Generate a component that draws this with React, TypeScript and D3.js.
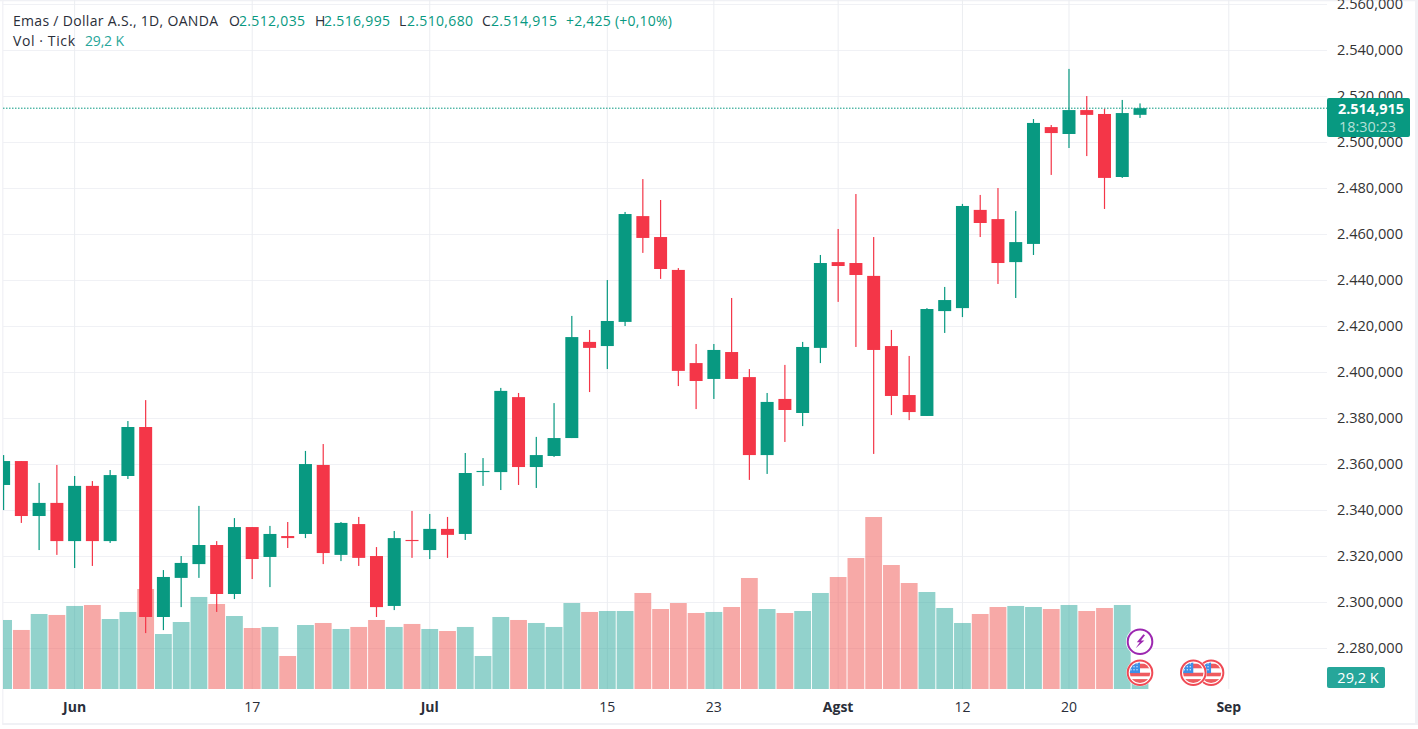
import React from "react"
import * as d3 from "d3"

const WIDTH = 1418
const HEIGHT = 729
const FONT = "'Open Sans', 'Noto Sans', sans-serif"

const GREEN = "#089981"
const RED = "#f43648"
const GRID = "#f0f1f5"

// trading days as month-day; the last five have no candle yet
const sessions = [
    "05-28", "05-29", "05-30", "05-31",
    "06-03", "06-04", "06-05", "06-06", "06-07",
    "06-10", "06-11", "06-12", "06-13", "06-14",
    "06-17", "06-18", "06-19", "06-20", "06-21",
    "06-24", "06-25", "06-26", "06-27", "06-28",
    "07-01", "07-02", "07-03", "07-04", "07-05",
    "07-08", "07-09", "07-10", "07-11", "07-12",
    "07-15", "07-16", "07-17", "07-18", "07-19",
    "07-22", "07-23", "07-24", "07-25", "07-26",
    "07-29", "07-30", "07-31", "08-01", "08-02",
    "08-05", "08-06", "08-07", "08-08", "08-09",
    "08-12", "08-13", "08-14", "08-15", "08-16",
    "08-19", "08-20", "08-21", "08-22", "08-23",
    "08-26", "08-27", "08-28", "08-29", "08-30",
    "09-02",
]

const opens = [
    2351.1, 2361.5, 2337.6, 2343.3, 2326.7, 2350.7, 2326.7, 2355.0, 2376.3, 2293.7,
    2310.7, 2316.7, 2325.0, 2303.7, 2332.8, 2319.8, 2328.9, 2329.8, 2359.8, 2320.7,
    2334.1, 2320.2, 2298.5, 2327.2, 2322.8, 2332.0, 2329.8, 2356.7, 2356.7, 2389.3,
    2358.9, 2363.7, 2371.5, 2413.3, 2411.5, 2422.0, 2468.0, 2458.9, 2444.6, 2404.1,
    2397.2, 2408.9, 2398.0, 2364.1, 2388.5, 2382.4, 2410.7, 2448.0, 2447.6, 2442.0,
    2411.5, 2390.2, 2381.1, 2426.7, 2428.0, 2470.7, 2466.7, 2448.0, 2455.9, 2506.7,
    2503.7, 2514.1, 2512.4, 2485.0, 2512.035,
]
const highs = [
    2364.1, 2361.5, 2352.0, 2359.8, 2355.0, 2352.8, 2357.6, 2378.9, 2388.0, 2314.1,
    2320.2, 2342.0, 2326.7, 2336.7, 2332.8, 2333.3, 2335.0, 2365.9, 2368.9, 2335.0,
    2337.2, 2324.1, 2331.1, 2339.8, 2338.5, 2337.2, 2365.0, 2362.8, 2393.3, 2391.1,
    2372.0, 2386.7, 2424.6, 2418.5, 2440.2, 2469.8, 2484.1, 2475.0, 2445.4, 2412.4,
    2412.4, 2432.4, 2401.5, 2391.1, 2403.3, 2413.3, 2451.1, 2462.4, 2477.6, 2458.9,
    2418.5, 2407.2, 2428.0, 2437.2, 2473.3, 2477.2, 2480.2, 2470.2, 2510.2, 2507.6,
    2532.0, 2520.2, 2514.6, 2518.5, 2516.995,
]
const lows = [
    2340.2, 2334.6, 2322.8, 2320.7, 2315.0, 2315.9, 2325.9, 2353.7, 2286.7, 2288.0,
    2298.0, 2310.7, 2295.9, 2301.5, 2310.2, 2306.7, 2323.7, 2328.0, 2316.7, 2318.0,
    2315.9, 2293.7, 2296.7, 2319.4, 2318.9, 2319.4, 2327.2, 2350.7, 2348.9, 2351.1,
    2349.8, 2363.3, 2371.5, 2391.5, 2401.5, 2420.2, 2452.0, 2440.7, 2394.1, 2384.1,
    2388.5, 2397.2, 2353.3, 2355.9, 2369.8, 2376.7, 2404.1, 2430.7, 2411.1, 2364.6,
    2381.5, 2379.3, 2381.1, 2417.2, 2424.1, 2458.9, 2438.5, 2432.4, 2451.1, 2485.9,
    2497.6, 2494.1, 2471.1, 2484.6, 2510.68,
]
const closes = [
    2361.5, 2337.6, 2343.3, 2326.7, 2350.7, 2326.7, 2355.4, 2376.3, 2293.7, 2311.1,
    2317.2, 2325.0, 2303.7, 2332.8, 2318.9, 2329.8, 2328.0, 2360.2, 2321.5, 2334.6,
    2319.4, 2298.0, 2328.0, 2326.7, 2332.0, 2329.4, 2356.3, 2357.2, 2392.0, 2358.9,
    2364.1, 2371.5, 2415.4, 2410.7, 2422.4, 2468.9, 2458.5, 2445.0, 2400.7, 2396.3,
    2409.8, 2397.2, 2364.1, 2387.2, 2383.7, 2411.1, 2447.6, 2446.3, 2442.4, 2409.8,
    2389.8, 2382.8, 2427.6, 2431.5, 2472.4, 2465.0, 2447.6, 2456.7, 2508.5, 2504.1,
    2514.1, 2512.0, 2484.6, 2512.8, 2514.915,
]
// tick volume, in thousands
const volumes = [
    167.9, 143.6, 182.5, 180.1, 202.0, 204.4, 170.3, 187.4, 243.3, 133.8,
    163.0, 223.9, 206.8, 177.6, 148.4, 150.9, 80.3, 155.7, 160.6, 146.0,
    150.9, 167.9, 150.9, 158.2, 146.0, 141.1, 150.9, 80.3, 175.2, 167.9,
    160.6, 150.9, 209.2, 187.4, 189.8, 189.8, 233.6, 194.6, 209.2, 184.9,
    187.4, 199.5, 270.1, 194.6, 184.9, 189.8, 233.6, 272.5, 318.7, 418.5,
    301.7, 257.9, 236.0, 197.1, 160.6, 182.5, 199.5, 202.0, 199.5, 194.6,
    204.4, 189.8, 197.1, 204.4, 29.2,
]

const priceTicks = d3.range(2280, 2561, 20)
const timeTicks = [
    { date: "06-03", label: "Jun", bold: true },
    { date: "06-17", label: "17", bold: false },
    { date: "07-01", label: "Jul", bold: true },
    { date: "07-15", label: "15", bold: false },
    { date: "07-23", label: "23", bold: false },
    { date: "08-01", label: "Agst", bold: true },
    { date: "08-12", label: "12", bold: false },
    { date: "08-20", label: "20", bold: false },
    { date: "09-02", label: "Sep", bold: true },
]
const usEvents = ["08-30", "08-29", "08-26"]
const flashEvents = ["08-26"]

const locale = d3.formatLocale({ decimal: ",", thousands: ".", grouping: [3], currency: ["", ""] })
const fmtPrice = locale.format(",.3f")

const x = d3.scalePoint<string>().domain(sessions).range([3.6, 1228.8])
const y = d3.scaleLinear().domain([2280, 2560]).range([648.5, 4.5])
const yVol = d3.scaleLinear().domain([0, 418.5]).range([689, 517])

const CHART_RIGHT = 1327
const bodyWidth = 13
const volWidth = 16.8

function Flag({ cx, cy, id }: { cx: number, cy: number, id: string }) {
    return (
        <g transform={`translate(${cx},${cy})`}>
            <clipPath id={id}><circle r={10.2} /></clipPath>
            <circle r={13.6} fill="#fff" />
            <circle r={12.3} fill="#fff" stroke="#f04a55" strokeWidth={2} />
            <g clipPath={`url(#${id})`}>
                <rect x={-11} y={-11} width={22} height={22} fill="#fff" />
                <rect x={-11} y={-9} width={22} height={4.6} fill="#ef5a5f" />
                <rect x={-11} y={0} width={22} height={3.6} fill="#ef5a5f" />
                <rect x={-11} y={6.4} width={22} height={5} fill="#ef5a5f" />
                <rect x={-11} y={-11} width={11} height={11.4} fill="#3d8fe8" />
                {d3.range(-9, 0, 3).map(px => d3.range(-9, 0, 3).map(py => (
                    <circle key={`${px}${py}`} cx={px} cy={py} r={0.7} fill="#dcebfb" />
                )))}
            </g>
        </g>
    )
}

export default function App() {
    const lastClose = closes[closes.length - 1]
    const lastVol = volumes[volumes.length - 1]
    const lastY = y(lastClose)

    const txt = { fontFamily: FONT, fontSize: 14, fill: "#2a2e39" }
    const num = { fontFamily: FONT, fontSize: 14, fill: GREEN }

    return (
        <svg width={WIDTH} height={HEIGHT} style={{ position: "fixed", left: 0, top: 0, background: "#fff" }}>
            <clipPath id="pane"><rect x={3} y={0} width={CHART_RIGHT - 3} height={690} /></clipPath>

            {/* frame */}
            <rect x={0} y={0} width={WIDTH} height={1.3} fill={GRID} />
            <rect x={2.2} y={0} width={1.2} height={724} fill={GRID} />
            <rect x={2.2} y={723} width={1413} height={2} fill={GRID} />
            <rect x={1415} y={0} width={3} height={725} fill={GRID} />

            {/* grid */}
            <g stroke={GRID} strokeWidth={1}>
                {priceTicks.map(t => <line key={t} x1={3} x2={CHART_RIGHT} y1={y(t)} y2={y(t)} />)}
                {timeTicks.map(t => <line key={t.date} x1={x(t.date)} x2={x(t.date)} y1={0} y2={689} stroke="#ebedf1" />)}
            </g>

            <g clipPath="url(#pane)">
                {/* volume */}
                {volumes.map((v, i) => (
                    <rect key={i} x={x(sessions[i])! - volWidth / 2} width={volWidth} y={yVol(v)} height={yVol(0) - yVol(v)}
                        fill={closes[i] >= opens[i] ? "#26a69a" : "#ef5350"} fillOpacity={0.5} />
                ))}

                {/* last price line */}
                <line x1={3} x2={CHART_RIGHT} y1={lastY} y2={lastY} stroke={GREEN} strokeWidth={1} strokeDasharray="1.5 1.5" />

                {/* candles */}
                {opens.map((o, i) => {
                    const c = closes[i]
                    const cx = x(sessions[i])!
                    const color = c >= o ? GREEN : RED
                    const top = y(Math.max(o, c))
                    const bottom = y(Math.min(o, c))
                    return (
                        <g key={i} fill={color}>
                            <rect x={cx - 0.6} width={1.2} y={y(highs[i])} height={y(lows[i]) - y(highs[i])} />
                            <rect x={cx - bodyWidth / 2} width={bodyWidth} y={top} height={Math.max(bottom - top, 1)} />
                        </g>
                    )
                })}
            </g>

            {/* event icons */}
            {usEvents.map(d => <Flag key={d} id={`flag${d}`} cx={x(d)!} cy={672.7} />)}
            {flashEvents.map(d => (
                <g key={d} transform={`translate(${x(d)},641.7)`}>
                    <circle r={14} fill="#fff" />
                    <circle r={12.3} fill="#fff" stroke="#9c27b0" strokeWidth={2} />
                    <path d="M3.4,-7.4 L-3.2,0.6 L-0.2,0.6 L-4.4,6.6 L4.4,-1.2 L0.9,-1.2 L5,-6.4 Z" fill="#9c27b0" />
                </g>
            ))}

            {/* price axis */}
            {priceTicks.map(t => (
                <text key={t} x={1337} y={y(t) - 1.6} dominantBaseline="central" {...txt} fontSize={15} fill="#333"
                    textLength={66} lengthAdjust="spacingAndGlyphs">
                    {fmtPrice(t)}
                </text>
            ))}

            {/* time axis */}
            {timeTicks.map(t => (
                <text key={t.date} x={x(t.date)} y={706} textAnchor="middle" dominantBaseline="central" {...txt} fontSize={14}
                    fontWeight={t.bold ? 700 : 400} fill="#2a2e39">
                    {t.label}
                </text>
            ))}

            {/* last price tag */}
            <rect x={CHART_RIGHT} y={98} width={83} height={39} rx={2} fill={GREEN} />
            <text x={1338} y={107.6} dominantBaseline="central" fontFamily={FONT} fontSize={15} fontWeight={700} fill="#fff"
                textLength={66} lengthAdjust="spacingAndGlyphs">
                {fmtPrice(lastClose)}
            </text>
            <text x={1339} y={126} dominantBaseline="central" fontFamily={FONT} fontSize={14.5} fill="#b5e0d8"
                textLength={57} lengthAdjust="spacingAndGlyphs">18:30:23</text>

            {/* volume tag */}
            <rect x={CHART_RIGHT} y={667} width={58} height={21} rx={2} fill="#26a69a" />
            <text x={1358} y={677.5} textAnchor="middle" dominantBaseline="central" fontFamily={FONT} fontSize={14.5} fill="#fff">29,2 K</text>

            {/* legend */}
            <g dominantBaseline="central">
                <text x={13} y={20} {...txt} textLength={205}>Emas / Dollar A.S., 1D, OANDA</text>
                <text x={229} y={20} {...txt}>O</text>
                <text x={239} y={20} {...num} textLength={66}>{fmtPrice(opens[opens.length - 1])}</text>
                <text x={315} y={20} {...txt}>H</text>
                <text x={324} y={20} {...num} textLength={66}>{fmtPrice(highs[highs.length - 1])}</text>
                <text x={399} y={20} {...txt}>L</text>
                <text x={407} y={20} {...num} textLength={66}>{fmtPrice(lows[lows.length - 1])}</text>
                <text x={482} y={20} {...txt}>C</text>
                <text x={491} y={20} {...num} textLength={66}>{fmtPrice(lastClose)}</text>
                <text x={566} y={20} {...num} textLength={106}>+2,425 (+0,10%)</text>
                <text x={13} y={40.5} {...txt} textLength={62}>Vol · Tick</text>
                <text x={85} y={40.5} {...num} fill="#26a69a" textLength={39}>{`${String(lastVol).replace(".", ",")} K`}</text>
            </g>
        </svg>
    )
}
